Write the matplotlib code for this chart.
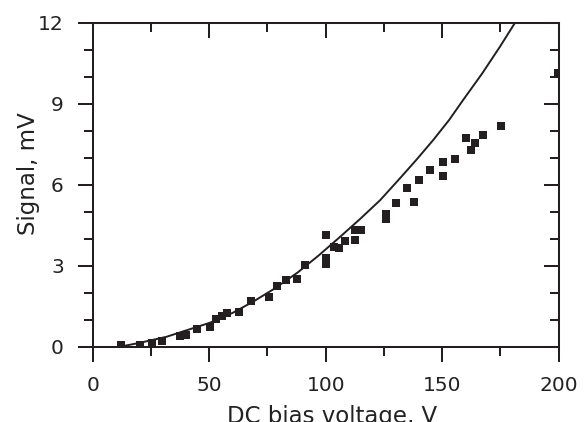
import matplotlib
matplotlib.use("Agg")
import matplotlib.pyplot as plt
from matplotlib.ticker import MultipleLocator

# measured data points
volt = [12.3, 20.5, 25.6, 29.9, 37.6, 40.2, 44.8, 50.2, 52.8, 55.6, 57.8, 62.7,
        67.8, 75.5, 79.0, 82.8, 87.8, 91.0, 100.3, 100.3, 100.3, 103.5, 105.7,
        108.2, 112.4, 112.4, 115.0, 125.8, 125.8, 130.0, 135.0, 137.8, 140.2,
        144.9, 150.2, 150.2, 155.4, 160.1, 162.5, 164.2, 167.7, 175.4, 199.9]
signal = [0.05, 0.07, 0.14, 0.20, 0.38, 0.44, 0.65, 0.73, 1.03, 1.12, 1.25, 1.28,
          1.71, 1.84, 2.23, 2.46, 2.50, 3.04, 4.12, 3.28, 3.06, 3.71, 3.67,
          3.90, 3.96, 4.31, 4.31, 4.91, 4.74, 5.31, 5.86, 5.35, 6.16,
          6.53, 6.83, 6.31, 6.97, 7.72, 7.30, 7.53, 7.83, 8.16, 10.14]

# model curve
curve_v = [11.7, 20, 31.8, 40, 50.4, 60, 68.9, 78, 88, 97, 106.2, 115, 123.4,
           131.9, 139, 146.2, 153, 159, 167, 174.7, 182]
curve_s = [0.0, 0.14, 0.37, 0.6, 0.89, 1.25, 1.67, 2.15, 2.75, 3.38, 4.07, 4.75,
           5.43, 6.24, 6.93, 7.66, 8.4, 9.14, 10.1, 11.1, 12.1]

xticks = [0, 50, 100, 150, 200]
yticks = [0, 3, 6, 9, 12]

dark = "#231f20"
plt.rcParams['font.family'] = ['DejaVu Sans']

fig = plt.figure(figsize=(5.88, 4.22), dpi=100)
ax = fig.add_axes([92.7/588, 1-346.7/422, 466/588, 324/422])

ax.plot(curve_v, curve_s, color=dark, lw=1.4, zorder=2)
ax.plot(volt, signal, ls='none', marker='s', ms=6, mew=0, color=dark, zorder=3)

ax.set_xlim(0, 200)
ax.set_ylim(0, 12)
ax.set_xticks(xticks)
ax.set_yticks(yticks)
ax.xaxis.set_minor_locator(MultipleLocator(25))
ax.yaxis.set_minor_locator(MultipleLocator(1))

for s in ax.spines.values():
    s.set_linewidth(1.45)
    s.set_color(dark)

ax.tick_params(which='major', direction='out', length=10.8, width=1.45,
               colors=dark, labelsize=14.5, pad=10, labelcolor='#222222')
ax.tick_params(which='minor', direction='out', length=6.2, width=1.45, colors=dark)

secx = ax.secondary_xaxis('top')
secx.set_xticks(xticks)
secx.xaxis.set_minor_locator(MultipleLocator(25))
secx.tick_params(which='major', direction='in', length=10.8, width=1.45,
                 colors=dark, labeltop=False)
secx.tick_params(which='minor', direction='in', length=6.2, width=1.45, colors=dark)
secx.spines['top'].set_linewidth(1.45)
secx.spines['top'].set_color(dark)

secy = ax.secondary_yaxis('right')
secy.set_yticks(yticks)
secy.yaxis.set_minor_locator(MultipleLocator(1))
secy.tick_params(which='major', direction='in', length=10.8, width=1.45,
                 colors=dark, labelright=False)
secy.tick_params(which='minor', direction='in', length=6.2, width=1.45, colors=dark)
secy.spines['right'].set_linewidth(1.45)
secy.spines['right'].set_color(dark)

fig.text(28/588, 1-174/422, "Signal, mV", rotation=90, ha='center', va='center',
         fontsize=16.5, color='#222222')
fig.text(332/588, 1-416/422, "DC bias voltage, V", ha='center', va='center',
         fontsize=16.5, color='#222222')

fig.savefig("out.png", dpi=100)
